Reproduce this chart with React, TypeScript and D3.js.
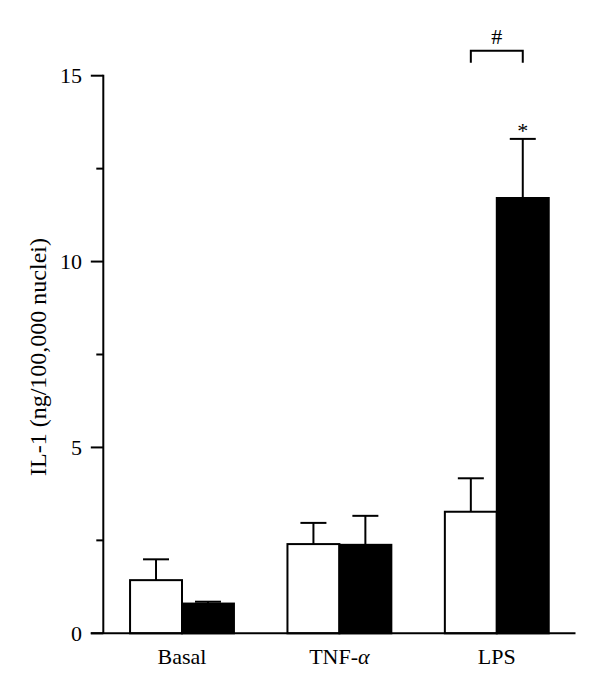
import React from "react";
import * as d3 from "d3";

const categories = ["Basal", "TNF-α", "LPS"];
const whiteValues = [1.43, 2.4, 3.27];
const whiteErrors = [0.56, 0.57, 0.9];
const blackValues = [0.8, 2.38, 11.71];
const blackErrors = [0.05, 0.78, 1.59];
const majorTicks = [0, 5, 10, 15];
const minorTicks = [2.5, 7.5, 12.5];
const yLabel = "IL-1 (ng/100,000 nuclei)";

const W = 600;
const H = 688;
const FONT = "'Liberation Serif', 'Times New Roman', serif";

export default function App() {
  const x0 = 103.3;
  const x1 = 575.5;
  const yBase = 633.3;
  const yTop = 75.7;
  const y = d3.scaleLinear().domain([0, 15]).range([yBase, yTop]);
  const xBand = d3
    .scaleBand<string>()
    .domain(categories)
    .range([x0, x1])
    .paddingInner(0.34)
    .paddingOuter(0.17);
  const sub = d3
    .scaleBand<string>()
    .domain(["white", "black"])
    .range([0, xBand.bandwidth()])
    .padding(0);
  const bw = sub.bandwidth();
  const capHalf = 13;
  const sw = 2;

  const series = [
    { key: "white", vals: whiteValues, errs: whiteErrors, fill: "#fff" },
    { key: "black", vals: blackValues, errs: blackErrors, fill: "#000" },
  ];

  const lpsX = xBand("LPS")!;
  const lpsWhiteC = lpsX + sub("white")! + bw / 2;
  const lpsBlackC = lpsX + sub("black")! + bw / 2;
  const bracketY = 50.7;

  return (
    <svg
      width={W}
      height={H}
      style={{ position: "absolute", left: 0, top: 0, background: "#fff" }}
      fontFamily={FONT}
    >
      {series.map((s) =>
        categories.map((c, i) => {
          const bx = xBand(c)! + sub(s.key)!;
          const cx = bx + bw / 2;
          const top = y(s.vals[i]);
          const et = y(s.vals[i] + s.errs[i]);
          return (
            <g key={s.key + c}>
              <line x1={cx} x2={cx} y1={top} y2={et} stroke="#000" strokeWidth={sw} />
              <line x1={cx - capHalf} x2={cx + capHalf} y1={et} y2={et} stroke="#000" strokeWidth={sw} />
              <rect
                x={bx}
                y={top}
                width={bw}
                height={yBase - top}
                fill={s.fill}
                stroke="#000"
                strokeWidth={sw}
              />
            </g>
          );
        })
      )}

      <line x1={x0} x2={x0} y1={yTop - 1} y2={yBase} stroke="#000" strokeWidth={2} />
      {majorTicks.map((t) => (
        <g key={"M" + t}>
          <line x1={x0 - 12.5} x2={x0} y1={y(t)} y2={y(t)} stroke="#000" strokeWidth={2} />
          <text x={82} y={y(t)} dy="0.35em" textAnchor="end" fontSize={22} fill="#000">
            {t}
          </text>
        </g>
      ))}
      {minorTicks.map((t) => (
        <line key={"m" + t} x1={x0 - 7} x2={x0} y1={y(t)} y2={y(t)} stroke="#000" strokeWidth={2} />
      ))}

      <line x1={x0 - 12.5} x2={x1} y1={yBase} y2={yBase} stroke="#000" strokeWidth={2} />
      {categories.map((c) => {
        const cx = xBand(c)! + xBand.bandwidth() / 2;
        return (
          <text key={c} x={cx} y={664} textAnchor="middle" fontSize={22} fill="#000">
            {c === "TNF-α" ? (
              <>
                TNF-<tspan fontStyle="italic">α</tspan>
              </>
            ) : (
              c
            )}
          </text>
        );
      })}

      <text
        transform={`translate(46,357) rotate(-90)`}
        textAnchor="middle"
        fontSize={24}
        fill="#000"
      >
        {yLabel}
      </text>

      <path
        d={`M${lpsWhiteC},${bracketY + 12} V${bracketY} H${lpsBlackC} V${bracketY + 12}`}
        fill="none"
        stroke="#000"
        strokeWidth={2}
      />
      <text x={(lpsWhiteC + lpsBlackC) / 2} y={44} textAnchor="middle" fontSize={22} fill="#000">
        #
      </text>
      <text
        x={lpsBlackC}
        y={y(blackValues[2] + blackErrors[2]) - 0.5}
        textAnchor="middle"
        fontSize={22}
        fill="#000"
      >
        *
      </text>
    </svg>
  );
}
